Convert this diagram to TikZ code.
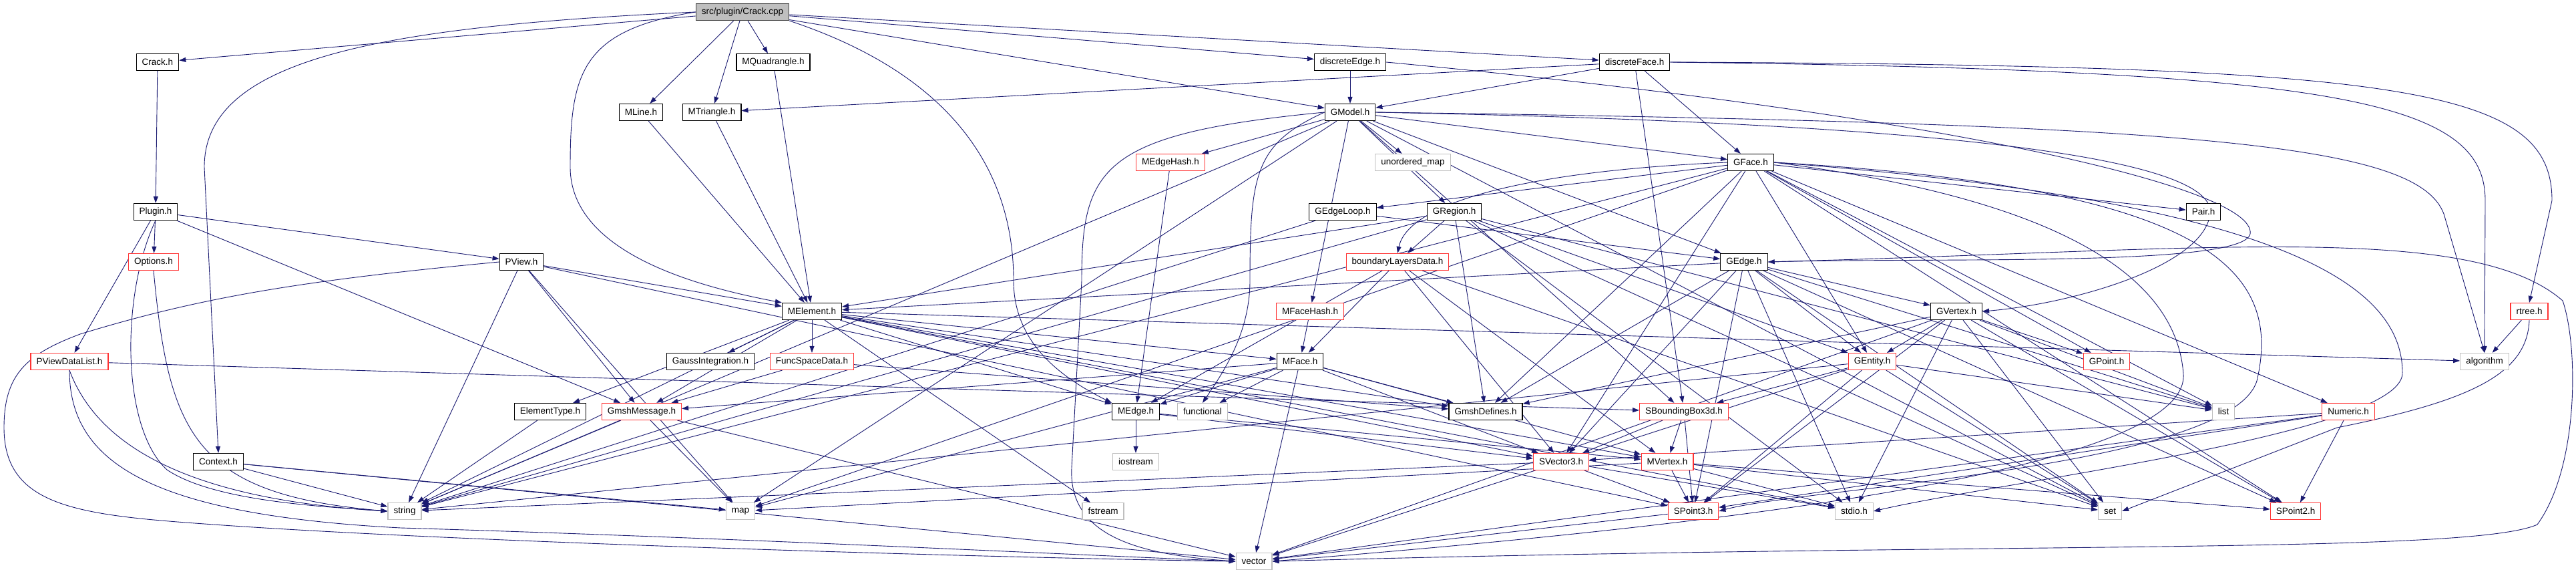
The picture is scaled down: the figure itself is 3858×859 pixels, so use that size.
\documentclass[tikz,border=0pt]{standalone}
\usepackage{fontspec}
\setmainfont{Liberation Sans}
\usepackage{tikz}
\usetikzlibrary{arrows.meta}
\definecolor{azul}{HTML}{191970}
\definecolor{vermelho}{HTML}{FF3333}
\definecolor{cinza}{HTML}{BFBFBF}
\pgfdeclarelayer{fundo}
\pgfsetlayers{fundo,main}

\begin{document}
\begin{tikzpicture}[x=1pt, y=-1pt, font=\fontsize{13.5}{15}\selectfont,
  bx/.style={draw=black, fill=white, line width=1.2pt, minimum height=25pt, inner xsep=8.5pt, inner ysep=0pt},
  rx/.style={bx, draw=vermelho},
  sx/.style={bx, draw=cinza},
  raiz/.style={bx, fill=cinza, draw=black!75},
  lig/.style={azul, line width=0.9pt, -{Triangle[length=10pt, width=7pt]}}]
  \useasboundingbox (0,0) rectangle (3858,859);
  % cabecalhos, por nivel
  \node[raiz] (cpp) at (1112,18) {src/plugin/Crack.cpp};
  \node[bx] (crackh) at (236,93) {Crack.h};
  \node[bx] (mquad) at (1158,93) {MQuadrangle.h};
  \node[bx] (dedge) at (2022,93) {discreteEdge.h};
  \node[bx] (dface) at (2448,93) {discreteFace.h};
  \node[bx] (mline) at (960,168) {MLine.h};
  \node[bx] (mtri) at (1066,168) {MTriangle.h};
  \node[bx] (gmodel) at (2022,168) {GModel.h};
  \node[rx] (medgehash) at (1753,243) {MEdgeHash.h};
  \node[sx] (umap) at (2116,243) {unordered\_map};
  \node[bx] (gface) at (2622,243) {GFace.h};
  \node[bx] (plugin) at (233,317) {Plugin.h};
  \node[bx] (gedgeloop) at (2011,317) {GEdgeLoop.h};
  \node[bx] (gregion) at (2178,317) {GRegion.h};
  \node[bx] (pair) at (3300,317) {Pair.h};
  \node[rx] (options) at (230,392) {Options.h};
  \node[bx] (pview) at (781,392) {PView.h};
  \node[rx] (bld) at (2093,392) {boundaryLayersData.h};
  \node[bx] (gedge) at (2612,392) {GEdge.h};
  \node[bx] (melement) at (1216,466) {MElement.h};
  \node[rx] (mfacehash) at (1962,466) {MFaceHash.h};
  \node[bx] (gvertex) at (2930,466) {GVertex.h};
  \node[rx] (rtree) at (3788,466) {rtree.h};
  \node[rx] (pvdl) at (104,541) {PViewDataList.h};
  \node[bx] (gauss) at (1064,541) {GaussIntegration.h};
  \node[rx] (fsd) at (1216,541) {FuncSpaceData.h};
  \node[bx] (mface) at (1947,541) {MFace.h};
  \node[rx] (gentity) at (2804,541) {GEntity.h};
  \node[rx] (gpoint) at (3155,541) {GPoint.h};
  \node[sx] (algorithm) at (3721,541) {algorithm};
  \node[bx] (etype) at (824,616) {ElementType.h};
  \node[rx] (gmsg) at (961,616) {GmshMessage.h};
  \node[bx] (medge) at (1701,616) {MEdge.h};
  \node[sx] (functional) at (1801,616) {functional};
  \node[bx] (gmshdef) at (2225,616) {GmshDefines.h};
  \node[rx] (sbb) at (2522,616) {SBoundingBox3d.h};
  \node[sx] (list) at (3330,616) {list};
  \node[rx] (numeric) at (3517,616) {Numeric.h};
  \node[bx] (context) at (327,691) {Context.h};
  \node[sx] (iostream) at (1701,691) {iostream};
  \node[rx] (svec) at (2338,691) {SVector3.h};
  \node[rx] (mvertex) at (2497,691) {MVertex.h};
  \node[sx] (string) at (606,765) {string};
  \node[sx] (map) at (1109,765) {map};
  \node[sx] (fstream) at (1652,765) {fstream};
  \node[rx] (spoint3) at (2536,765) {SPoint3.h};
  \node[sx] (stdio) at (2777,765) {stdio.h};
  \node[sx] (set) at (3160,765) {set};
  \node[rx] (spoint2) at (3438,765) {SPoint2.h};
  \node[sx] (vector) at (1878,840) {vector};
  \begin{pgfonlayer}{fundo}
  % includes diretos
  \foreach \a/\b in {cpp/crackh, cpp/mline, cpp/mtri, cpp/mquad,
    cpp/gmodel, cpp/dedge, cpp/dface, crackh/plugin,
    mquad/melement, mline/melement, mtri/melement, dedge/gmodel,
    dface/gmodel, dface/gface, dface/mtri, dface/sbb,
    gmodel/medgehash, gmodel/umap, gmodel/gface, gmodel/gregion, gmodel/gedge,
    gmodel/mfacehash, gmodel/sbb, gmodel/string,
    gmodel/map, gmodel/set, medgehash/medge,
    gface/gedgeloop, gface/pair, gface/gentity, gface/gpoint, gface/spoint2,
    gface/svec, gface/numeric, gface/list, gface/string, gface/map,
    gface/gmshdef,
    plugin/pview, plugin/options, plugin/pvdl, plugin/gmsg,
    gedgeloop/gedge, gedgeloop/string,
    gregion/bld, gregion/gentity, gregion/gmshdef, gregion/list, gregion/string,
    gregion/stdio, gregion/set, gregion/melement,
    pview/melement, pview/string, pview/map, pview/gmsg, pview/spoint3,
    bld/medge, bld/mface, bld/svec, bld/mvertex, bld/set,
    gedge/gvertex, gedge/gentity, gedge/gmshdef, gedge/svec, gedge/spoint3, gedge/spoint2,
    gedge/list, gedge/set, gedge/stdio, gedge/melement,
    melement/gauss, melement/fsd, melement/medge, melement/mface, melement/etype,
    melement/gmsg, melement/fstream, melement/string, melement/algorithm,
    melement/mvertex, melement/svec, melement/gmshdef, melement/stdio, mfacehash/mface,
    gvertex/gentity, gvertex/gpoint, gvertex/spoint2, gvertex/spoint3, gvertex/list,
    gvertex/set, gvertex/stdio, gvertex/vector, gvertex/gmshdef,
    rtree/algorithm, pvdl/sbb,
    fsd/gmsg, fsd/gmshdef,
    mface/mvertex, mface/svec, mface/gmshdef, mface/gmsg, mface/medge, mface/functional,
    mface/vector, mface/map,
    gentity/sbb, gentity/spoint3, gentity/list, gentity/set, gentity/vector, gentity/string,
    etype/string, gmsg/string, gmsg/map, gmsg/vector,
    medge/iostream, medge/svec, medge/mvertex, sbb/svec, sbb/spoint3, sbb/mvertex,
    numeric/svec, numeric/spoint3, numeric/spoint2, numeric/vector,
    context/string, context/map, context/vector, svec/spoint3, svec/stdio, svec/string,
    mvertex/spoint3, mvertex/spoint2, mvertex/set, mvertex/stdio, mvertex/map,
    spoint3/vector} {
    \draw[lig] (\a) -- (\b);
  }
  % ligacoes que contornam o grafo
  \draw[lig] (cpp.west) .. controls (560,40) and (306,90) .. (306,250) -- (context.north);
  \draw[lig] (cpp.west) .. controls (870,45) and (854,110) .. (854,250) .. controls (854,380) and (1050,430) .. (melement.north west);
  \draw[lig] (cpp.south east) .. controls (1420,110) and (1518,250) .. (1518,420) .. controls (1518,520) and (1600,570) .. (medge.north west);
  \draw[lig] (pview.west) .. controls (450,420) and (300,445) .. (120,500) .. controls (40,530) and (6,560) .. (6,640) .. controls (6,760) and (120,771) .. (320,785) .. controls (700,812) and (1500,835) .. (vector.west);
  \draw[lig] (pvdl.south) .. controls (104,690) and (220,770) .. (600,790) .. controls (1100,805) and (1600,830) .. (vector.west);
  \draw[lig] (pvdl.south) .. controls (140,650) and (250,745) .. (string.west);
  \draw[lig] (plugin.south) .. controls (181,440) and (181,640) .. (250,703) .. controls (320,750) and (480,758) .. (string.west);
  \draw[lig] (options.south) .. controls (253,650) and (290,740) .. (string.west);
  \draw[lig] (gmodel.west) .. controls (1650,200) and (1620,250) .. (1620,420) -- (1605,700) .. controls (1600,800) and (1700,830) .. (vector.west);
  \draw[lig] (gmodel.west) .. controls (1880,215) and (1872,260) .. (1872,420) .. controls (1872,500) and (1830,560) .. (functional.north);
  \draw[lig] (gmodel.east) .. controls (2950,185) and (3320,240) .. (3310,320) .. controls (3300,400) and (3100,455) .. (gvertex.east);
  \draw[lig] (gmodel.east) .. controls (3300,185) and (3620,215) .. (3660,320) -- (algorithm.north);
  \draw[lig] (dedge.east) .. controls (2900,170) and (3380,280) .. (3370,350) .. controls (3360,400) and (2900,385) .. (gedge.east);
  \draw[lig] (dface.east) .. controls (3500,105) and (3722,150) .. (3722,300) -- (algorithm.north);
  \draw[lig] (dface.east) .. controls (3600,98) and (3822,130) .. (3822,300) -- (rtree.north);
  \draw[lig] (gedge.east) .. controls (3300,375) and (3700,330) .. (3838,450) .. controls (3862,520) and (3862,700) .. (3800,785) .. controls (3700,830) and (3000,810) .. (vector.east);
  \draw[lig] (gface.east) .. controls (3400,300) and (3600,420) .. (3598,560) .. controls (3590,650) and (3000,720) .. (stdio.east);
  \draw[lig] (gface.east) .. controls (3300,280) and (3420,400) .. (3380,570) .. controls (3340,700) and (2700,730) .. (spoint3.east);
  \draw[lig] (gface.east) .. controls (3100,300) and (3260,420) .. (3270,560) .. controls (3280,720) and (2400,800) .. (vector.east);
  \draw[lig] (gface.west) .. controls (2300,255) and (2110,300) .. (bld.north);
  \draw[lig] (rtree.south) .. controls (3785,560) and (3700,600) .. (3500,640) -- (set.east);
  \end{pgfonlayer}
\end{tikzpicture}
\end{document}
